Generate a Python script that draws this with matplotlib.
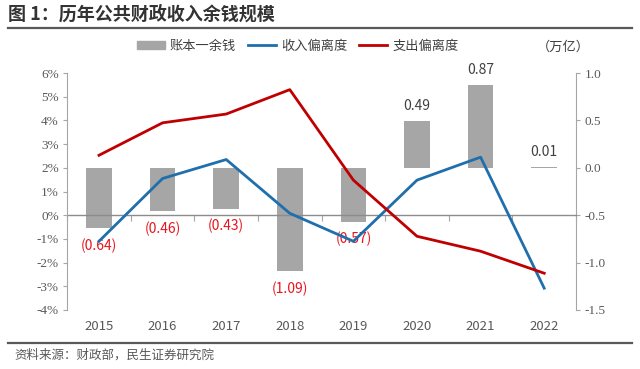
import numpy as np
import matplotlib.pyplot as plt
from matplotlib.patches import Patch
from matplotlib.lines import Line2D

plt.rcParams['font.family'] = ['Noto Sans CJK SC', 'DejaVu Sans']

# 数据
years = ['2015', '2016', '2017', '2018', '2019', '2020', '2021', '2022']
yu_qian = [-0.64, -0.46, -0.43, -1.09, -0.57, 0.49, 0.87, 0.01]   # 万亿 (右轴)
shou_ru = [-1.1, 1.55, 2.35, 0.08, -1.1, 1.48, 2.45, -3.08]        # % (左轴)
zhi_chu = [2.53, 3.9, 4.27, 5.3, 1.48, -0.89, -1.52, -2.45]        # % (左轴)
y_left = [-4, -3, -2, -1, 0, 1, 2, 3, 4, 5, 6]
y_right = [-1.5, -1.0, -0.5, 0.0, 0.5, 1.0]

gris = '#a6a6a6'
azul = '#1f6fad'
rojo = '#c00000'
rojo_txt = '#e8141c'
txt = '#595959'

fig = plt.figure(figsize=(6.4, 3.69), dpi=100)
ax = fig.add_axes([0.105, 0.16, 0.795, 0.642])
ax2 = ax.twinx()
ax.set_zorder(ax2.get_zorder() + 1)
ax.patch.set_visible(False)

x = np.arange(len(years))

# barras en el eje derecho
ax2.bar(x, yu_qian, width=0.4, color=gris, zorder=2)
for xi, v in zip(x, yu_qian):
    if v >= 0:
        ax2.annotate(f'{v:.2f}', (xi, v), xytext=(0, 11), textcoords='offset points',
                     ha='center', va='center', fontsize=10, color='#404040')
    else:
        ax2.annotate(f'({abs(v):.2f})', (xi, v), xytext=(0, -12.5), textcoords='offset points',
                     ha='center', va='center', fontsize=10, color=rojo_txt)

# lineas en el eje izquierdo
ax.plot(x, shou_ru, color=azul, lw=2, zorder=3)
ax.plot(x, zhi_chu, color=rojo, lw=2, zorder=3)

ax.set_xlim(-0.5, len(years) - 0.5)
ax.set_ylim(-4, 6)
ax2.set_ylim(-1.5, 1.0)

ax.set_yticks(y_left)
ax.set_yticklabels([f'{v}%' for v in y_left], family='Liberation Serif', fontsize=9.5, color=txt)
ax2.set_yticks(y_right)
ax2.set_yticklabels([f'{v:.1f}' for v in y_right], family='Liberation Serif', fontsize=9.5, color=txt)

ax.set_xticks(x)
ax.set_xticklabels(years, fontsize=9.5, color=txt)
ax.tick_params(axis='x', length=0, pad=7)
ax.tick_params(axis='y', length=3, color=gris, pad=3)
ax2.tick_params(axis='y', length=3, color=gris, pad=3)

for a in (ax, ax2):
    for s in ('top', 'bottom'):
        a.spines[s].set_visible(False)
    a.spines['left'].set_color(gris)
    a.spines['right'].set_color(gris)
ax.spines['right'].set_visible(False)
ax2.spines['left'].set_visible(False)

# linea de 0% con marcas entre categorias
pos0 = (0 - ax.get_ylim()[0]) / (ax.get_ylim()[1] - ax.get_ylim()[0])
sec = ax.secondary_xaxis(pos0)
sec.set_xticks(np.arange(len(years) + 1) - 0.5)
sec.set_xticklabels([])
sec.tick_params(length=4, color=gris)
sec.spines['bottom'].set_color('#8c8c8c')
sec.spines['bottom'].set_linewidth(1)

handles = [Patch(color=gris), Line2D([], [], color=azul, lw=2), Line2D([], [], color=rojo, lw=2)]
fig.legend(handles, ['账本一余钱', '收入偏离度', '支出偏离度'], loc='center',
           bbox_to_anchor=(0.465, 0.875), ncol=3, frameon=False, fontsize=9.5,
           handlelength=2.1, handleheight=0.6, columnspacing=0.9, handletextpad=0.4,
           labelcolor='#404040')
fig.text(0.88, 0.873, '（万亿）', ha='center', va='center', fontsize=9.5, color='#404040')

fig.text(0.012, 0.962, '图 1：历年公共财政收入余钱规模', fontsize=13, fontweight='bold',
         color='#333333', va='center')
fig.add_artist(Line2D([0.012, 0.988], [0.925, 0.925], color='#595959', lw=1.6))
fig.add_artist(Line2D([0.012, 0.988], [0.07, 0.07], color='#595959', lw=1.6))
fig.text(0.022, 0.038, '资料来源：财政部，民生证券研究院', fontsize=9, color=txt, va='center')

fig.savefig('out.png', dpi=100)
